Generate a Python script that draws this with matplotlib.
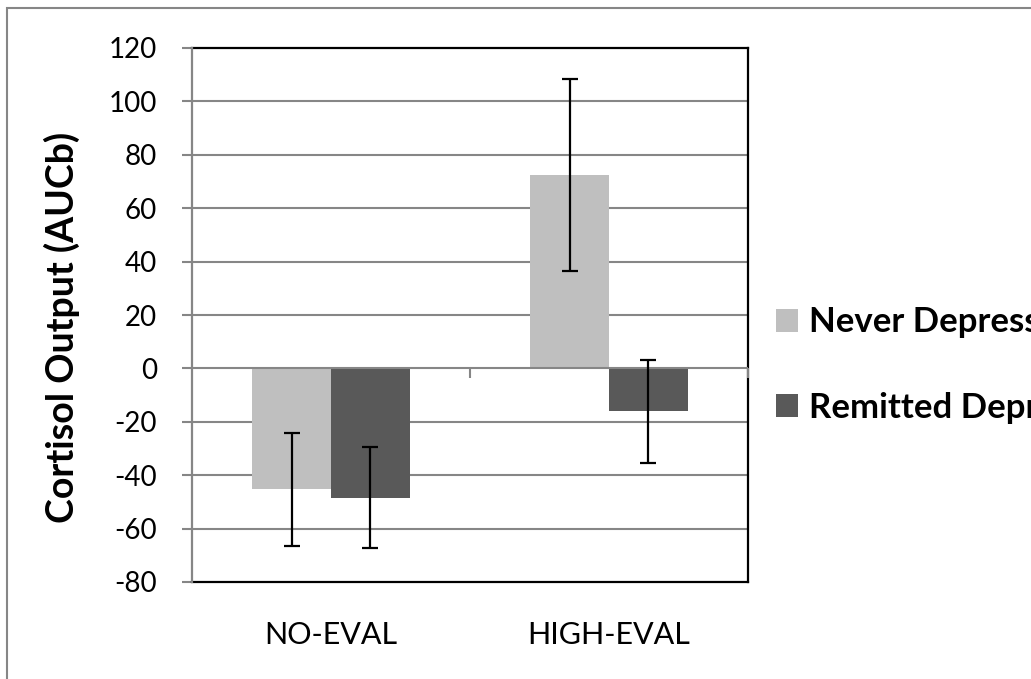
import matplotlib
matplotlib.use("Agg")
import matplotlib.pyplot as plt
from matplotlib.patches import Rectangle, Patch
import numpy as np

plt.rcParams['font.family'] = ['Lato', 'DejaVu Sans']

# data
categories = ["NO-EVAL", "HIGH-EVAL"]
series_names = ["Never Depressed", "Remitted Depressed"]
never_dep = [-45.3, 72.4]
never_dep_err = [21.1, 36.0]
remitted_dep = [-48.4, -16.1]
remitted_dep_err = [18.8, 19.2]
yticks = [-80, -60, -40, -20, 0, 20, 40, 60, 80, 100, 120]

light = "#BFBFBF"
dark = "#595959"
grid_c = "#868686"

W, H = 1031, 679
fig = plt.figure(figsize=(W / 100, H / 100), dpi=100)

# outer chart border (right/bottom edges run off the picture)
fig.patches.append(Rectangle((7 / W, -0.1), 1.2, 1.1 - 8 / H, transform=fig.transFigure,
                             fill=False, edgecolor=grid_c, linewidth=1.5))

ax = fig.add_axes([192 / W, 1 - 582 / H, 556 / W, 534 / H])
x = np.arange(len(categories))
w = 0.284

ax.bar(x - w / 2, never_dep, w, color=light, zorder=2, label=series_names[0])
ax.bar(x + w / 2, remitted_dep, w, color=dark, zorder=2, label=series_names[1])
ax.errorbar(x - w / 2, never_dep, yerr=never_dep_err, fmt='none', ecolor='black',
            elinewidth=1.6, capsize=5.5, capthick=1.6, zorder=4)
ax.errorbar(x + w / 2, remitted_dep, yerr=remitted_dep_err, fmt='none', ecolor='black',
            elinewidth=1.6, capsize=5.5, capthick=1.6, zorder=4)

ax.set_xlim(-0.5, len(categories) - 0.5)
ax.set_ylim(yticks[0], yticks[-1])

# horizontal gridlines + zero axis
for t in yticks[1:-1]:
    ax.axhline(t, color=grid_c, linewidth=1.5, zorder=1 if t != 0 else 3)
ax.vlines(x[:-1] + 0.5, -3.7, 0, color=grid_c, linewidth=1.5, zorder=3)
ax.vlines([x[-1] + 0.5], -3.7, 0, color=grid_c, linewidth=1.5, zorder=6, clip_on=False)

for s in ["top", "right", "bottom"]:
    ax.spines[s].set_color("black")
    ax.spines[s].set_linewidth(1.6)
ax.spines["left"].set_color(grid_c)
ax.spines["left"].set_linewidth(1.6)
ax.spines["left"].set_zorder(5)

ax.set_yticks(yticks)
ax.set_yticklabels([str(t) for t in yticks])
ax.tick_params(axis='y', direction='out', length=7.2, width=1.5, color=grid_c,
               labelsize=20, pad=18)
ax.set_xticks(x)
ax.set_xticklabels(categories)
ax.tick_params(axis='x', length=0, labelsize=22, pad=28)

fig.text(62 / W, 1 - 327 / H, "Cortisol Output (AUCb)", rotation=90, ha='center',
         va='center', fontsize=27, fontweight='bold')

# legend runs off the right edge, as in the reference
handles = [Patch(facecolor=light), Patch(facecolor=dark)]
leg = fig.legend(handles, series_names, loc='center left',
                 bbox_to_anchor=(776 / W, 1 - 365 / H), bbox_transform=fig.transFigure,
                 frameon=False, borderpad=0, borderaxespad=0, handlelength=0.63,
                 handleheight=0.63, handletextpad=0.32, labelspacing=1.53,
                 prop={'size': 25, 'weight': 'bold'})

fig.savefig("out.png", dpi=100)
